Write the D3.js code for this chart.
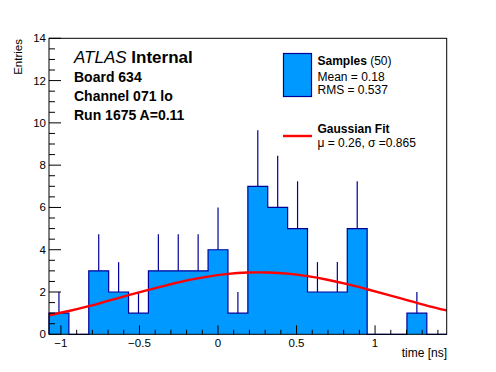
<!DOCTYPE html>
<html>
<head>
<meta charset="utf-8">
<script src="https://cdn.jsdelivr.net/npm/d3@7"></script>
<style>
  body { margin: 0; background: #fff; }
  svg { display: block; font-family: "Liberation Sans", Arial, sans-serif; }
</style>
</head>
<body>
<svg id="chart"></svg>
<script>
// histogram: 20 bins over the x range
const xRange = [-1.076, 1.456];
const counts = [1, 0, 3, 2, 1, 3, 3, 3, 4, 1, 7, 6, 5, 2, 2, 5, 0, 0, 1, 0];
// gaussian fit, read at the bin edges
const fitValues = [0.90, 1.10, 1.33, 1.59, 1.85, 2.10, 2.34, 2.56, 2.73, 2.86, 2.92,
                   2.92, 2.87, 2.75, 2.58, 2.37, 2.13, 1.88, 1.62, 1.36, 1.13];
const xTicks = [-1, -0.5, 0, 0.5, 1];
const yTicks = [0, 2, 4, 6, 8, 10, 12, 14];
const infoLines = ["Board 634", "Channel 071 lo", "Run 1675 A=0.11"];

const W = 496, H = 372;
const padL = 49, padR = 446.7, padT = 38.3, padB = 334.3;
const fillCol = "#0099ff", lineCol = "#000099";

let svg = d3.select("#chart").attr("width", W).attr("height", H);

const x = d3.scaleLinear().domain(xRange).range([padL, padR]);
const y = d3.scaleLinear().domain([0, 14]).range([padB, padT]);

const nBins = counts.length;
const binW = (xRange[1] - xRange[0]) / nBins;
const edges = d3.range(nBins + 1).map(i => xRange[0] + i * binW);

// step outline points
let pts = [[edges[0], 0]];
counts.forEach((c, i) => pts.push([edges[i], c]));
pts.push([edges[nBins], counts[nBins - 1]]);
pts.push([edges[nBins], 0]);

const area = d3.area().curve(d3.curveStepAfter)
    .x(d => x(d[0])).y0(y(0)).y1(d => y(d[1]));
const step = d3.line().curve(d3.curveStepAfter)
    .x(d => x(d[0])).y(d => y(d[1]));

svg.append("path").attr("d", area(pts)).attr("fill", fillCol);
svg.append("path").attr("d", step(pts)).attr("fill", "none")
    .attr("stroke", lineCol).attr("stroke-width", 1.2);

// error bars (upper half, sqrt(N))
counts.forEach((c, i) => {
    if (c <= 0) return;
    let cx = x(edges[i] + binW / 2);
    svg.append("line")
        .attr("x1", cx).attr("x2", cx)
        .attr("y1", y(c)).attr("y2", y(c + Math.sqrt(c)))
        .attr("stroke", lineCol).attr("stroke-width", 1.2);
});

// fit curve
const fitLine = d3.line().curve(d3.curveCatmullRom)
    .x((d, i) => x(edges[i])).y(d => y(d));
svg.append("path").attr("d", fitLine(fitValues)).attr("fill", "none")
    .attr("stroke", "#ff0000").attr("stroke-width", 2.4);

// frame
svg.append("rect").attr("x", padL).attr("y", padT)
    .attr("width", padR - padL).attr("height", padB - padT)
    .attr("fill", "none").attr("stroke", "#000").attr("stroke-width", 1);

// x axis ticks (inward)
const xMinor = d3.range(-1.0, 1.45, 0.1).map(v => Math.round(v * 10) / 10);
xMinor.forEach(v => {
    let major = xTicks.includes(v);
    svg.append("line").attr("x1", x(v)).attr("x2", x(v))
        .attr("y1", padB).attr("y2", padB - (major ? 9 : 4.5))
        .attr("stroke", "#000");
});
svg.selectAll(".xl").data(xTicks).join("text")
    .attr("x", d => x(d)).attr("y", padB + 13)
    .attr("text-anchor", "middle").attr("font-size", 11.5)
    .text(d => d < 0 ? "\u2212" + Math.abs(d) : d);

// y axis ticks
d3.range(0, 14.01, 0.5).forEach(v => {
    let major = v % 2 === 0;
    svg.append("line").attr("x1", padL).attr("x2", padL + (major ? 12 : 6))
        .attr("y1", y(v)).attr("y2", y(v)).attr("stroke", "#000");
});
svg.selectAll(".yl").data(yTicks).join("text")
    .attr("x", padL - 3).attr("y", d => y(d) + 4)
    .attr("text-anchor", "end").attr("font-size", 11.5)
    .text(d => d);

// axis titles
svg.append("text").attr("x", 447).attr("y", 357)
    .attr("text-anchor", "end").attr("font-size", 12).text("time [ns]");
svg.append("text")
    .attr("transform", `translate(22,39) rotate(-90)`)
    .attr("text-anchor", "end").attr("font-size", 11.5).text("Entries");

// ATLAS label
let atl = svg.append("text").attr("x", 74).attr("y", 62.5).attr("font-size", 17);
atl.append("tspan").attr("font-style", "italic").text("ATLAS");
atl.append("tspan").attr("font-weight", "bold").text(" Internal");
infoLines.forEach((t, i) => {
    svg.append("text").attr("x", 74).attr("y", 81.5 + i * 19.3)
        .attr("font-size", 14).attr("font-weight", "bold").text(t);
});

// legend
svg.append("rect").attr("x", 283.5).attr("y", 53.5).attr("width", 28).attr("height", 43)
    .attr("fill", fillCol).attr("stroke", lineCol).attr("stroke-width", 1.2);
let s = svg.append("text").attr("x", 317.5).attr("y", 64.5).attr("font-size", 12);
s.append("tspan").attr("font-weight", "bold").text("Samples");
s.append("tspan").text(" (50)");
svg.append("text").attr("x", 317.5).attr("y", 80.5).attr("font-size", 12).text("Mean = 0.18");
svg.append("text").attr("x", 317.5).attr("y", 94).attr("font-size", 12).text("RMS = 0.537");

svg.append("line").attr("x1", 283).attr("x2", 312).attr("y1", 136).attr("y2", 136)
    .attr("stroke", "#ff0000").attr("stroke-width", 2.4);
svg.append("text").attr("x", 317.5).attr("y", 132.5).attr("font-size", 12)
    .attr("font-weight", "bold").text("Gaussian Fit");
svg.append("text").attr("x", 317.5).attr("y", 147).attr("font-size", 12)
    .text("\u03bc = 0.26, \u03c3 =0.865");
</script>
</body>
</html>
